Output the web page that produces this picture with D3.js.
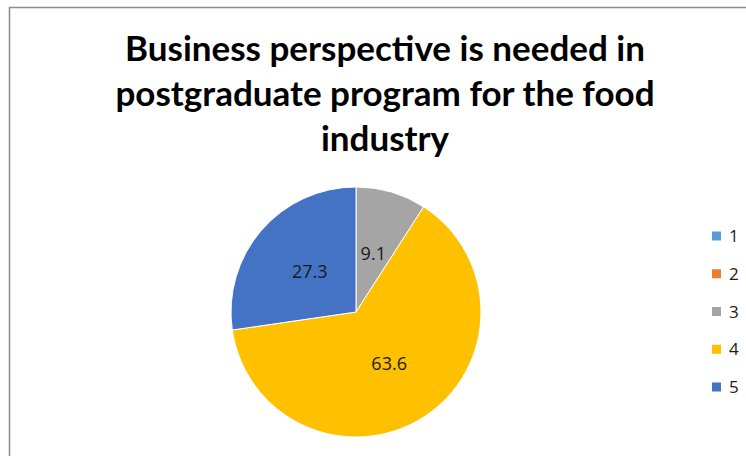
<!DOCTYPE html>
<html>
<head>
<meta charset="utf-8">
<script src="https://cdn.jsdelivr.net/npm/d3@7"></script>
<style>
  html, body { margin: 0; padding: 0; background: #fff; }
  svg { display: block; }
</style>
</head>
<body>
<svg id="chart" width="746" height="456"></svg>
<script>
// Survey responses (percent) per rating 1–5
const categories = ["1", "2", "3", "4", "5"];
const values = [0, 0, 9.1, 63.6, 27.3];
const colors = ["#5B9BD5", "#ED7D31", "#A5A5A5", "#FFC000", "#4472C4"];
const titleLines = ["Business perspective is needed in", "postgraduate program for the food", "industry"];

const svg = d3.select("#chart");
const W = 746, H = 456;

// chart area frame
svg.append("rect")
  .attr("x", 9.5).attr("y", 7.5)
  .attr("width", W + 20).attr("height", H + 20)
  .attr("fill", "#fff").attr("stroke", "#8c8c8c").attr("stroke-width", 1.5);

// title
const title = svg.append("text")
  .attr("text-anchor", "middle")
  .attr("font-family", "Lato, 'Open Sans', sans-serif")
  .attr("font-weight", "bold")
  .attr("font-size", 35)
  .attr("fill", "#000");
titleLines.forEach((t, i) => {
  title.append("tspan").attr("x", 385).attr("y", 61 + i * 45).text(t);
});

// pie
const cx = 356, cy = 312, R = 125;
const data = categories.map((c, i) => ({ cat: c, value: values[i], color: colors[i] }));
const pie = d3.pie().value(d => d.value).sort(null);
const arcs = pie(data);
const arc = d3.arc().innerRadius(0).outerRadius(R);
const labelArc = d3.arc().innerRadius(R * 0.49).outerRadius(R * 0.49);

const g = svg.append("g").attr("transform", `translate(${cx},${cy})`);
g.selectAll("path")
  .data(arcs.filter(a => a.data.value > 0))
  .join("path")
  .attr("d", arc)
  .attr("fill", d => d.data.color)
  .attr("stroke", "#fff")
  .attr("stroke-width", 1);

g.selectAll("text.lbl")
  .data(arcs.filter(a => a.data.value > 0))
  .join("text")
  .attr("class", "lbl")
  .attr("transform", d => `translate(${labelArc.centroid(d)})`)
  .attr("text-anchor", "middle")
  .attr("dy", "0.35em")
  .attr("font-family", "'Open Sans', sans-serif")
  .attr("font-size", 18)
  .attr("fill", "#1a1a1a")
  .text(d => d.data.value.toFixed(1));

// legend
const legY = d3.scalePoint().domain(categories).range([236, 387]);
const leg = svg.append("g");
const item = leg.selectAll("g").data(data).join("g")
  .attr("transform", d => `translate(712,${legY(d.cat)})`);
item.append("rect")
  .attr("x", 0).attr("y", -4.5).attr("width", 9).attr("height", 9)
  .attr("fill", d => d.color);
item.append("text")
  .attr("x", 17).attr("dy", "0.36em")
  .attr("font-family", "'Open Sans', sans-serif")
  .attr("font-size", 17)
  .attr("fill", "#1a1a1a")
  .text(d => d.cat);
</script>
</body>
</html>
